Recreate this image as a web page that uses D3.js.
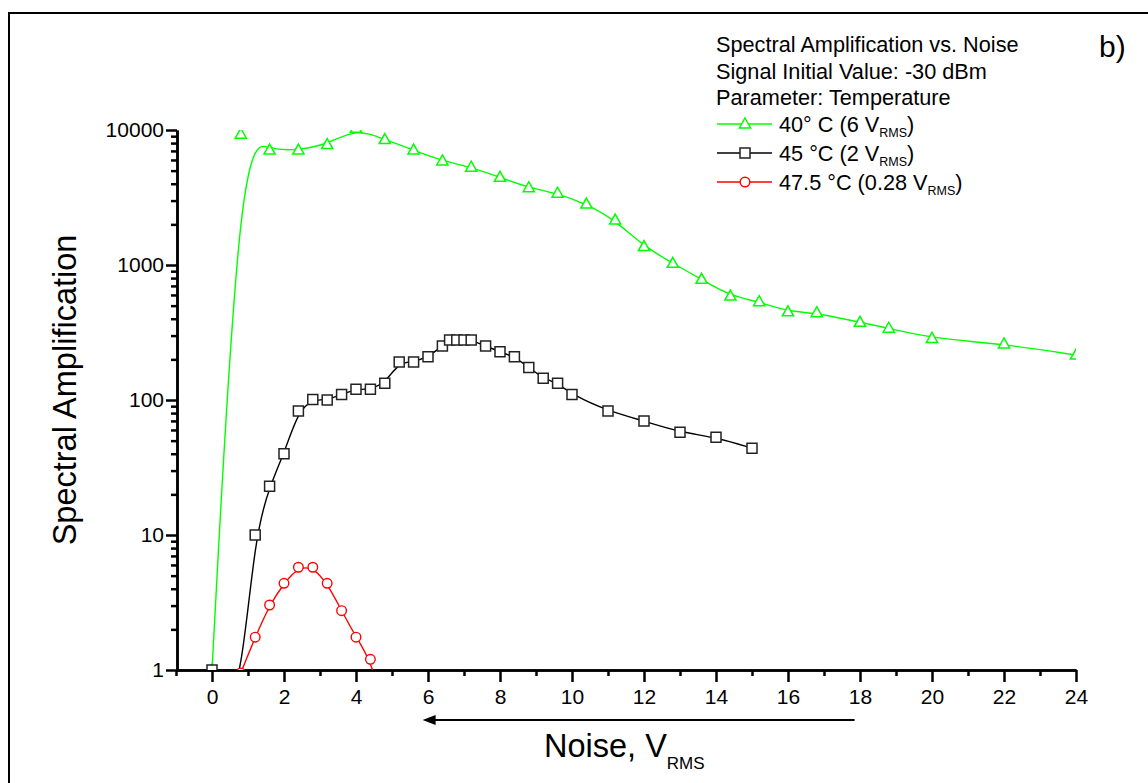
<!DOCTYPE html>
<html>
<head>
<meta charset="utf-8">
<script src="https://cdn.jsdelivr.net/npm/d3@7"></script>
<style>
  body { margin: 0; background: #fff; }
  text { font-family: Arial, "Liberation Sans", sans-serif; fill: #000; }
</style>
</head>
<body>
<div id="chart"></div>
<script>
/***********************************************************************/
// data (x = noise in V_RMS, y = spectral amplification)
// points below 1 sit under the axis and only shape the spline where it enters/leaves
const greenX = [0, 0.8, 1.6, 2.4, 3.2, 4.0, 4.8, 5.6, 6.4, 7.2, 8.0, 8.8, 9.6, 10.4, 11.2, 12.0,
  12.8, 13.6, 14.4, 15.2, 16.0, 16.8, 18.0, 18.8, 20.0, 22.0, 24.0];
const greenY = [1, 9300, 7100, 7100, 7800, 10300, 8500, 7100, 5900, 5300, 4460, 3740, 3400, 2830, 2150, 1370,
  1030, 783, 589, 535, 450, 443, 376, 340, 286, 260, 215];

const blackX = [0, 0.4, 0.8, 1.2, 1.6, 2.0, 2.4, 2.8, 3.2, 3.6, 4.0, 4.4, 4.8, 5.2, 5.6, 6.0, 6.4,
  6.6, 6.8, 7.0, 7.2, 7.6, 8.0, 8.4, 8.8, 9.2, 9.6, 10.0, 11.0, 12.0, 13.0, 14.0, 15.0];
const blackY = [1, 0.6, 0.8, 10, 23, 40, 83, 101, 100, 110, 120, 120, 133, 191, 191, 209, 251,
  278, 278, 278, 278, 251, 228, 209, 174, 145, 133, 110, 83, 70, 57.6, 53, 43.9];

const redX = [0.8, 1.2, 1.6, 2.0, 2.4, 2.8, 3.2, 3.6, 4.0, 4.4, 4.8];
const redY = [0.95, 1.75, 3.03, 4.39, 5.77, 5.77, 4.39, 2.75, 1.75, 1.2, 0.5];

const xMajorTicks = [0, 2, 4, 6, 8, 10, 12, 14, 16, 18, 20, 22, 24];
const xMinorTicks = [-1, 1, 3, 5, 7, 9, 11, 13, 15, 17, 19, 21, 23];
const yMajorTicks = [1, 10, 100, 1000, 10000];
const yMinorTicks = [1, 10, 100, 1000].flatMap(d => [2, 3, 4, 5, 6, 7, 8, 9].map(k => d * k));

const legendTitle = ["Spectral Amplification vs. Noise", "Signal Initial Value: -30 dBm", "Parameter: Temperature"];
const legendItems = [
  { label: "40° C (6 V", tail: ")", color: "#00ff00", marker: "triangle" },
  { label: "45 °C (2 V", tail: ")", color: "#000000", marker: "square" },
  { label: "47.5 °C (0.28 V", tail: ")", color: "#ff0000", marker: "circle" }
];

// arrow under the x axis (data units)
const arrowFrom = 17.85, arrowTo = 5.85;

/***********************************************************************/
var svgWidth = 1148;
var svgHeight = 783;

var svg = d3.select('#chart')
  .append('svg')
  .attr('width', svgWidth)
  .attr('height', svgHeight);

// outer frame (right and bottom edges run off the page)
svg.append('rect')
  .attr('x', 9).attr('y', 13)
  .attr('width', 1300).attr('height', 900)
  .attr('fill', 'none').attr('stroke', '#000').attr('stroke-width', 2);

var xScale = d3.scaleLinear().domain([-1, 24]).range([176, 1076]);
var yScale = d3.scaleLog().domain([1, 10000]).range([670, 130]);

/***********************************************************************/
// axes
var xMinor = d3.axisBottom(xScale).tickValues(xMinorTicks).tickSize(6).tickSizeOuter(0).tickFormat('');
var xMajor = d3.axisBottom(xScale).tickValues(xMajorTicks).tickSize(12).tickSizeOuter(0).tickPadding(7);
var yMinor = d3.axisLeft(yScale).tickValues(yMinorTicks).tickSize(6).tickSizeOuter(0).tickFormat('');
var yMajor = d3.axisLeft(yScale).tickValues(yMajorTicks).tickSize(11).tickSizeOuter(0).tickPadding(2)
  .tickFormat(d3.format('d'));

function styleAxis(g, fontSize) {
  g.selectAll('.domain').attr('stroke', '#000').attr('stroke-width', 2.5);
  g.selectAll('.tick line').attr('stroke', '#000').attr('stroke-width', 2.5);
  g.selectAll('.tick text').attr('font-size', fontSize).attr('fill', '#000')
    .attr('font-family', 'Arial, "Liberation Sans", sans-serif');
}

svg.append('g').attr('transform', `translate(0, ${yScale(1)})`).call(xMinor).call(styleAxis, 21);
svg.append('g').attr('transform', `translate(0, ${yScale(1)})`).call(xMajor).call(styleAxis, 21);
svg.append('g').attr('transform', `translate(${xScale(-1) + 1}, 0)`).call(yMinor).call(styleAxis, 21);
svg.append('g').attr('transform', `translate(${xScale(-1) + 1}, 0)`).call(yMajor).call(styleAxis, 21);

/***********************************************************************/
// clip for the data
svg.append('clipPath').attr('id', 'plotClip')
  .append('rect')
  .attr('x', xScale(-1)).attr('y', yScale(10000))
  .attr('width', xScale(24) - xScale(-1)).attr('height', yScale(1) - yScale(10000));

var plot = svg.append('g').attr('clip-path', 'url(#plotClip)');

function markerPath(type) {
  if (type === 'triangle') return 'M0,-6 L5.6,4 L-5.6,4 Z';
  return 'M-5,-5 H5 V5 H-5 Z';
}

function drawMarker(sel, type, color) {
  if (type === 'circle') {
    sel.append('circle').attr('r', 4.8)
      .attr('fill', '#fff').attr('stroke', color).attr('stroke-width', 1.4);
  } else {
    sel.append('path').attr('d', markerPath(type))
      .attr('fill', '#fff').attr('stroke', type === 'square' ? '#222' : color).attr('stroke-width', 1.5);
  }
}

function drawSeries(xs, ys, color, marker) {
  var pts = xs.map((x, i) => [x, ys[i]]);
  var line = d3.line()
    .x(d => xScale(d[0]))
    .y(d => yScale(d[1]))
    .curve(d3.curveBasis);
  plot.append('path')
    .attr('d', line(pts))
    .attr('fill', 'none')
    .attr('stroke', color)
    .attr('stroke-width', 1.4);
  plot.selectAll(null)
    .data(pts)
    .enter()
    .append('g')
    .attr('transform', d => `translate(${xScale(d[0])}, ${yScale(d[1])})`)
    .each(function () { drawMarker(d3.select(this), marker, color); });
}

drawSeries(greenX, greenY, '#00ff00', 'triangle');
drawSeries(blackX, blackY, '#000000', 'square');
drawSeries(redX, redY, '#ff0000', 'circle');

/***********************************************************************/
// axis titles
svg.append('text')
  .attr('transform', 'translate(76, 390) rotate(-90)')
  .attr('text-anchor', 'middle')
  .attr('font-size', 32.5)
  .text('Spectral Amplification');

var xTitle = svg.append('text')
  .attr('x', 544).attr('y', 757)
  .attr('font-size', 32.5)
  .text('Noise, V');
xTitle.append('tspan').attr('dy', 12).attr('font-size', 17).text('RMS');

// arrow pointing left, toward lower noise
var tipX = xScale(arrowTo);
svg.append('line')
  .attr('x1', xScale(arrowFrom)).attr('x2', tipX + 10)
  .attr('y1', 720).attr('y2', 720)
  .attr('stroke', '#000').attr('stroke-width', 2);
svg.append('path')
  .attr('d', `M${tipX},720 L${tipX + 13},715 L${tipX + 13},725 Z`)
  .attr('fill', '#000');

/***********************************************************************/
// legend
legendTitle.forEach((t, i) => {
  svg.append('text')
    .attr('x', 716).attr('y', 52 + i * 26.5)
    .attr('font-size', 21.7)
    .text(t);
});

legendItems.forEach((item, i) => {
  var cy = 124 + i * 29;
  svg.append('line')
    .attr('x1', 717).attr('x2', 772)
    .attr('y1', cy).attr('y2', cy)
    .attr('stroke', item.color).attr('stroke-width', 1.4);
  var m = svg.append('g').attr('transform', `translate(745, ${cy})`);
  drawMarker(m, item.marker, item.color);
  var t = svg.append('text')
    .attr('x', 779).attr('y', cy + 8)
    .attr('font-size', 21.7)
    .text(item.label);
  t.append('tspan').attr('dy', 5).attr('font-size', 12.5).text('RMS');
  t.append('tspan').attr('dy', -5).text(item.tail);
});

svg.append('text')
  .attr('x', 1099).attr('y', 57)
  .attr('font-size', 30)
  .text('b)');
</script>
</body>
</html>
